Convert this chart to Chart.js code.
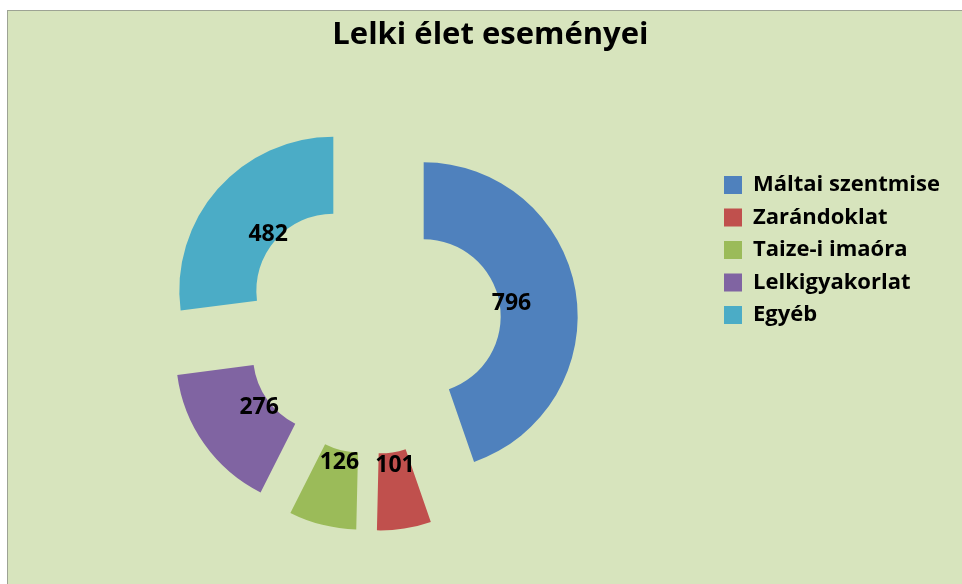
<!DOCTYPE html>
<html lang="hu">
<head>
    <meta charset="UTF-8">
    <title>Lelki élet eseményei</title>
    <script src="https://cdn.jsdelivr.net/npm/chart.js"></script>
    <style>
        body {
            margin: 0;
            background-color: #ffffff;
            font-family: "Open Sans", "Liberation Sans", sans-serif;
        }

        .frame {
            position: absolute;
            left: 7px;
            top: 10px;
            width: 955px;
            height: 574px;
            box-sizing: border-box;
            border-left: 1px solid #9da394;
            border-top: 1px solid #9da394;
            background-color: #d7e4bd;
        }

        .chart-box {
            position: relative;
            width: 954px;
            height: 573px;
        }
    </style>
</head>
<body>
    <div class="frame">
        <div class="chart-box">
            <canvas id="lelkiChart"></canvas>
        </div>
    </div>
    <script>
        // chart data
        const categories = ['Máltai szentmise', 'Zarándoklat', 'Taize-i imaóra', 'Lelkigyakorlat', 'Egyéb'];
        const values = [796, 101, 126, 276, 482];
        const sliceColors = ['#4f81bd', '#c0504d', '#9bbb59', '#8064a2', '#4bacc6'];

        const explodeGap = 52;

        // every slice pulled outward from the centre
        const explodePlugin = {
            id: 'explode',
            beforeDatasetDraw(chart, args) {
                const ctx = chart.ctx;
                args.meta.data.forEach(arc => {
                    const mid = (arc.startAngle + arc.endAngle) / 2;
                    ctx.save();
                    ctx.translate(Math.cos(mid) * explodeGap, Math.sin(mid) * explodeGap);
                    arc.draw(ctx);
                    ctx.restore();
                });
                return false;
            }
        };

        // value labels near the inner edge of each slice
        const valueLabels = {
            id: 'valueLabels',
            afterDatasetsDraw(chart) {
                const ctx = chart.ctx;
                const meta = chart.getDatasetMeta(0);
                ctx.save();
                ctx.font = 'bold 23px "Open Sans"';
                ctx.fillStyle = '#000000';
                ctx.textAlign = 'center';
                ctx.textBaseline = 'middle';
                meta.data.forEach((arc, i) => {
                    const mid = (arc.startAngle + arc.endAngle) / 2;
                    const dist = explodeGap + arc.innerRadius + 11;
                    ctx.fillText(values[i], arc.x + Math.cos(mid) * dist + 1, arc.y + Math.sin(mid) * dist + 2);
                });
                ctx.restore();
            }
        };

        const ctx = document.getElementById('lelkiChart').getContext('2d');
        const lelkiChart = new Chart(ctx, {
            type: 'doughnut',
            data: {
                labels: categories,
                datasets: [{
                    data: values,
                    backgroundColor: sliceColors,
                    borderWidth: 0
                }]
            },
            options: {
                responsive: true,
                maintainAspectRatio: false,
                animation: false,
                radius: 154,
                cutout: '50%',
                layout: {
                    padding: { left: 23.3, right: 12.5, top: 0, bottom: 2 }
                },
                plugins: {
                    title: {
                        display: true,
                        text: 'Lelki élet eseményei',
                        color: '#000000',
                        font: { family: 'Open Sans', size: 31, weight: 'bold', lineHeight: 1.2 },
                        padding: { top: 6, bottom: 13.8 }
                    },
                    legend: {
                        position: 'right',
                        align: 'start',
                        maxWidth: 236,
                        title: {
                            display: true,
                            text: '',
                            font: { size: 10, lineHeight: 1 },
                            padding: { top: 142.5, bottom: 0 }
                        },
                        labels: {
                            color: '#000000',
                            boxWidth: 18,
                            boxHeight: 18,
                            padding: 10.5,
                            font: { family: 'Open Sans', size: 22, weight: 'bold' }
                        }
                    },
                    tooltip: { enabled: false }
                },
                events: []
            },
            plugins: [explodePlugin, valueLabels]
        });
    </script>
</body>
</html>
